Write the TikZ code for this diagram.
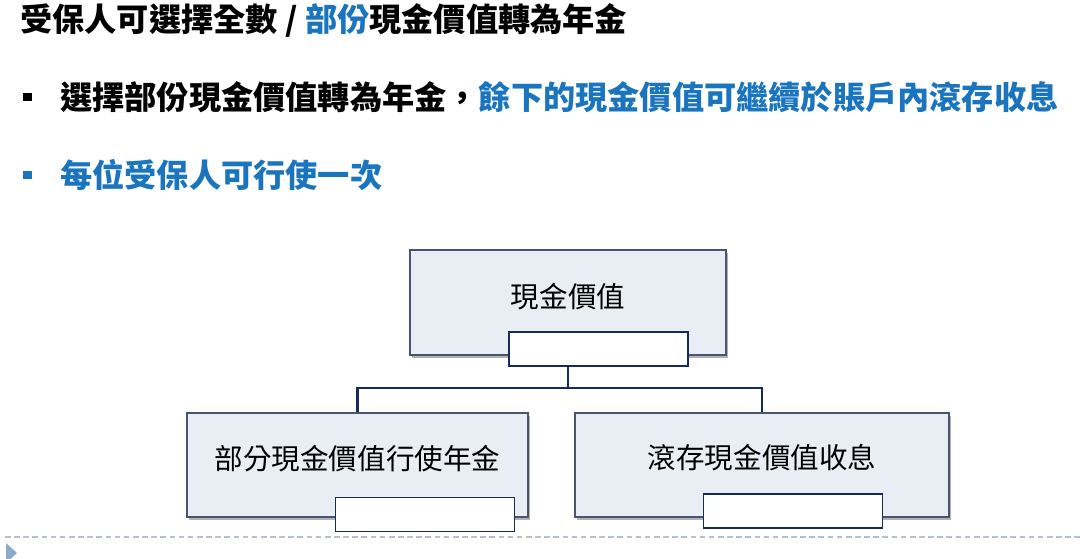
\documentclass[tikz,border=0pt]{standalone}
\usepackage{fontspec}
\setmainfont{Noto Sans CJK TC}
\usepackage{xcolor}
\usetikzlibrary{shadows,calc}
\definecolor{hiblue}{RGB}{26,117,190}
\definecolor{boxfill}{RGB}{233,237,244}
\definecolor{boxline}{RGB}{72,84,112}
\definecolor{navy}{RGB}{22,42,92}
\definecolor{rulegrey}{RGB}{182,192,206}
\definecolor{markblue}{RGB}{140,170,202}
\tikzset{
  headline/.style   = {anchor=west, inner sep=0pt, font=\fontsize{22.9}{26}\selectfont\bfseries},
  bulletline/.style = {anchor=west, inner sep=0pt, font=\fontsize{22.9}{26}\selectfont\bfseries},
  sqbullet/.style   = {minimum size=2mm, inner sep=0pt, draw=none},
  valbox/.style     = {draw=boxline, line width=1.2pt, fill=boxfill, inner sep=0pt,
                       drop shadow={shadow xshift=1.5pt, shadow yshift=-2pt,
                                    opacity=0.5, fill=black!60}},
  boxtext/.style    = {inner sep=0pt, font=\fontsize{20.3}{24}\selectfont},
  tagbox/.style     = {draw=navy, line width=1.3pt, fill=white, inner sep=0pt,
                       minimum width=4.475cm, minimum height=0.85cm},
  link/.style       = {draw=navy, line width=2.1pt},
}

\begin{document}
\begin{tikzpicture}[x=0.025cm, y=-0.025cm]
  \clip (0,0) rectangle (1080,559);
  % heading and bullets
  \node[headline] (title) at (20,20) {受保人可選擇全數 / \textcolor{hiblue}{部份}現金價值轉為年金};
  \node[sqbullet, fill=black] (dot1) at (27.5,97) {};
  \node[bulletline] (line1) at (60,97) {選擇部份現金價值轉為年金，\textcolor{hiblue}{餘下的現金價值可繼續於賬戶內滾存收息}};
  \node[sqbullet, fill=hiblue] (dot2) at (27.5,175) {};
  \node[bulletline, text=hiblue] (line2) at (60,175) {每位受保人可行使一次};
  % connectors
  \draw[link] (568,355) -- ++(0,33) -| (357.5,413);
  \draw[link] (568,355) -- ++(0,33) -| (762,413);
  % boxes
  \node[valbox, minimum width=7.9cm, minimum height=2.625cm] (cash) at (568,302.5) {};
  \node[valbox, minimum width=8.525cm, minimum height=2.6cm] (annuity) at (357.5,465) {};
  \node[valbox, minimum width=9.35cm, minimum height=2.6cm] (rollover) at (762,465) {};
  \node[boxtext] (cashtxt) at ([yshift=4.5pt]cash.center) {現金價值};
  \node[boxtext] (annuitytxt) at ([yshift=4.5pt]annuity.center) {部分現金價值行使年金};
  \node[boxtext] (rollovertxt) at ([yshift=5pt]rollover.center) {滾存現金價值收息};
  \node[tagbox] (cashtag) at (598.5,349) {};
  \node[tagbox] (annuitytag) at (425,514.5) {};
  \node[tagbox] (rollovertag) at (793,511) {};
  % footer
  \draw[rulegrey, line width=1pt, dash pattern=on 4pt off 2.5pt] (5,537) -- (1080,537);
  \fill[markblue] (6,543) -- (17,553) -- (6,563) -- cycle;
\end{tikzpicture}
\end{document}
